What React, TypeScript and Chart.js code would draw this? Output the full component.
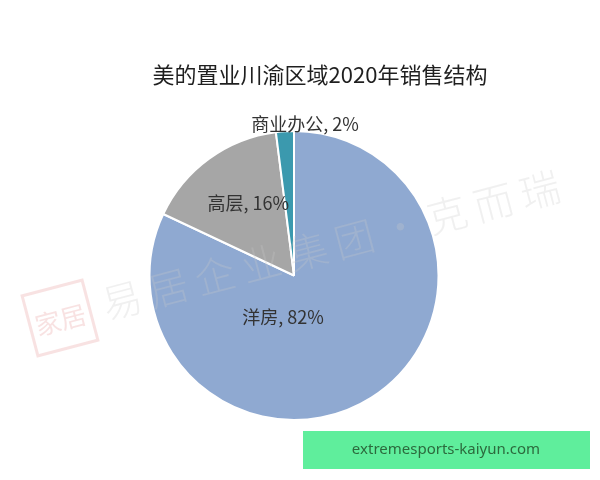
import React, { useEffect, useRef } from "react";
import { Chart, registerables } from "chart.js";

Chart.register(...registerables);

const categories = ["洋房", "高层", "商业办公"];
const shares = [82, 16, 2];
const sliceColors = ["#8FA9D1", "#A6A6A6", "#3B99AE"];
const titleText = "美的置业川渝区域2020年销售结构";
const watermarkChars = ["易", "居", "企", "业", "集", "团", "·", "克", "而", "瑞"];
const footerText = "extremesports-kaiyun.com";

// label placement relative to pie centre, in units of radius (style, not data)
const labelOffsets = [
  [-0.076, 0.29],
  [-0.317, -0.5],
  [0.076, -1.048],
];

const CJK = '"Noto Sans CJK SC", "Noto Sans", sans-serif';

const overlayPlugin = {
  id: "overlay",
  afterDatasetsDraw(chart: any) {
    const ctx = chart.ctx as CanvasRenderingContext2D;
    const meta = chart.getDatasetMeta(0);
    const arc0 = meta.data[0] as any;
    const cx = arc0.x;
    const cy = arc0.y;
    const r = arc0.outerRadius;
    ctx.save();
    ctx.font = `18px ${CJK}`;
    ctx.fillStyle = "#333333";
    ctx.textAlign = "center";
    ctx.textBaseline = "middle";
    categories.forEach((c, i) => {
      const [ox, oy] = labelOffsets[i];
      ctx.fillText(`${c}, ${shares[i]}%`, cx + ox * r, cy + oy * r);
    });
    ctx.restore();
  },
  afterDraw(chart: any) {
    const ctx = chart.ctx as CanvasRenderingContext2D;
    ctx.save();
    // title
    ctx.font = `22px ${CJK}`;
    ctx.fillStyle = "#1f1f1f";
    ctx.textAlign = "center";
    ctx.textBaseline = "middle";
    ctx.fillText(titleText, 320, 75);

    // watermark
    const ang = Math.atan2(-110, 418);
    ctx.save();
    ctx.translate(122, 300);
    ctx.rotate(ang);
    ctx.font = `300 40px ${CJK}`;
    ctx.fillStyle = "rgba(200,200,200,0.28)";
    watermarkChars.forEach((ch, i) => {
      ctx.fillText(ch, i * 48, 0);
    });
    ctx.restore();

    // stamp
    ctx.save();
    ctx.translate(60, 318);
    ctx.rotate(ang);
    ctx.strokeStyle = "rgba(230,150,150,0.28)";
    ctx.lineWidth = 3;
    ctx.strokeRect(-31, -31, 62, 62);
    ctx.font = `26px ${CJK}`;
    ctx.fillStyle = "rgba(230,150,150,0.28)";
    ctx.textAlign = "center";
    ctx.textBaseline = "middle";
    ctx.fillText("家", -13, 2);
    ctx.fillText("居", 13, 2);
    ctx.restore();

    // footer box
    ctx.fillStyle = "#5FEE9C";
    ctx.fillRect(303, 431, 287, 38);
    ctx.font = `15px "Noto Sans", sans-serif`;
    ctx.fillStyle = "#2C6A3D";
    ctx.textAlign = "center";
    ctx.textBaseline = "middle";
    ctx.fillText(footerText, 446, 450);
    ctx.restore();
  },
};

export default function App() {
  const ref = useRef<HTMLCanvasElement | null>(null);
  useEffect(() => {
    if (!ref.current) return;
    const chart = new Chart(ref.current, {
      type: "pie",
      data: {
        labels: categories,
        datasets: [
          {
            data: shares,
            backgroundColor: sliceColors,
            borderColor: "#ffffff",
            borderWidth: 2,
          },
        ],
      },
      options: {
        responsive: false,
        animation: false,
        devicePixelRatio: 1,
        layout: { padding: { top: 130, bottom: 59, left: 148, right: 160 } },
        plugins: {
          legend: { display: false },
          title: { display: false },
          tooltip: { enabled: false },
        },
      },
      plugins: [overlayPlugin],
    });
    return () => chart.destroy();
  }, []);
  return (
    <div style={{ position: "absolute", left: 0, top: 0, width: 600, height: 480, background: "#fff" }}>
      <canvas ref={ref} width={600} height={480} style={{ width: 600, height: 480 }} />
    </div>
  );
}
